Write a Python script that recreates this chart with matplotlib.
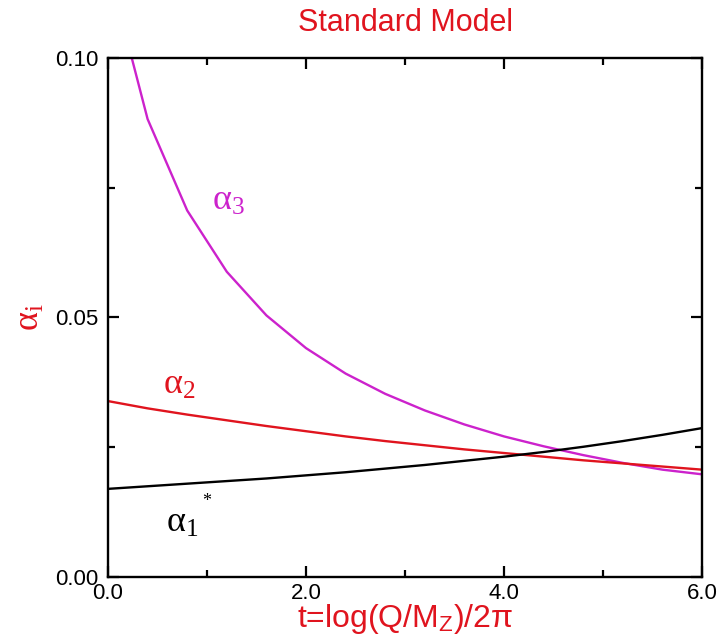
import numpy as np
import matplotlib
matplotlib.use('Agg')
import matplotlib.pyplot as plt
from matplotlib.ticker import MultipleLocator

plt.rcParams['font.family'] = ['Liberation Sans', 'DejaVu Sans']
plt.rcParams['mathtext.fontset'] = 'custom'
plt.rcParams['mathtext.rm'] = 'Liberation Serif'
plt.rcParams['mathtext.it'] = 'Liberation Serif:italic'
plt.rcParams['mathtext.sf'] = 'Liberation Sans'

# values
t = [0.0, 0.4, 0.8, 1.2, 1.6, 2.0, 2.4, 2.8, 3.2, 3.6, 4.0, 4.4, 4.8, 5.2, 5.6, 6.0]
alpha3 = [0.1176, 0.0882, 0.0706, 0.0588, 0.0504, 0.0441, 0.0392, 0.0353,
          0.0321, 0.0294, 0.0271, 0.0252, 0.0235, 0.0220, 0.0207, 0.0198]
alpha2 = [0.0339, 0.0325, 0.0313, 0.0302, 0.0291, 0.0281, 0.0271, 0.0262,
          0.0254, 0.0246, 0.0239, 0.0232, 0.0225, 0.0219, 0.0213, 0.0207]
alpha1 = [0.0170, 0.0175, 0.0180, 0.0185, 0.0190, 0.0196, 0.0202, 0.0209,
          0.0216, 0.0224, 0.0232, 0.0241, 0.0251, 0.0262, 0.0274, 0.0287]

RED = '#e0141e'
MAGENTA = '#cc22cc'

fig = plt.figure(figsize=(7.2, 6.42), dpi=100)
ax = fig.add_axes([0.15, 0.101, 0.825, 0.809])

ax.plot(t, alpha3, color=MAGENTA, linewidth=1.7)
ax.plot(t, alpha2, color=RED, linewidth=1.7)
ax.plot(t, alpha1, color='black', linewidth=1.7)

lab = dict(fontsize=26, ha='center', va='center')
ax.text(1.22, 0.0725, r'$\mathrm{α}_{3}$', color=MAGENTA, **lab)
ax.text(0.72, 0.0372, r'$\mathrm{α}_{2}$', color=RED, **lab)
ax.text(0.75, 0.0105, r'$\mathrm{α}_{1}$', color='black', **lab)
ax.text(1.0, 0.0145, '*', color='black', fontsize=13, family='Liberation Serif',
        ha='center', va='center')

ax.set_xlim(0, 6)
ax.set_ylim(0, 0.1)
ax.xaxis.set_major_locator(MultipleLocator(2))
ax.xaxis.set_minor_locator(MultipleLocator(1))
ax.yaxis.set_major_locator(MultipleLocator(0.05))
ax.yaxis.set_minor_locator(MultipleLocator(0.025))
ax.set_xticklabels([f'{v:.1f}' for v in ax.get_xticks()])
ax.set_yticklabels([f'{v:.2f}' for v in ax.get_yticks()])
ax.tick_params(which='both', direction='in', top=True, right=True, width=1.6)
ax.tick_params(which='major', length=8, labelsize=16, pad=7)
ax.tick_params(axis='x', which='major', pad=4)
ax.tick_params(which='minor', length=5)
for s in ax.spines.values():
    s.set_linewidth(1.7)

ax.set_title('Standard Model', color=RED, fontsize=22, pad=19)
ax.set_xlabel(r't=log(Q/M$_\mathsf{Z}$)/2π', color=RED, fontsize=23, labelpad=-1)
ax.set_ylabel(r'$\mathrm{α}_\mathrm{i}$', color=RED, fontsize=26, labelpad=6)

fig.savefig('out.png', dpi=100)
